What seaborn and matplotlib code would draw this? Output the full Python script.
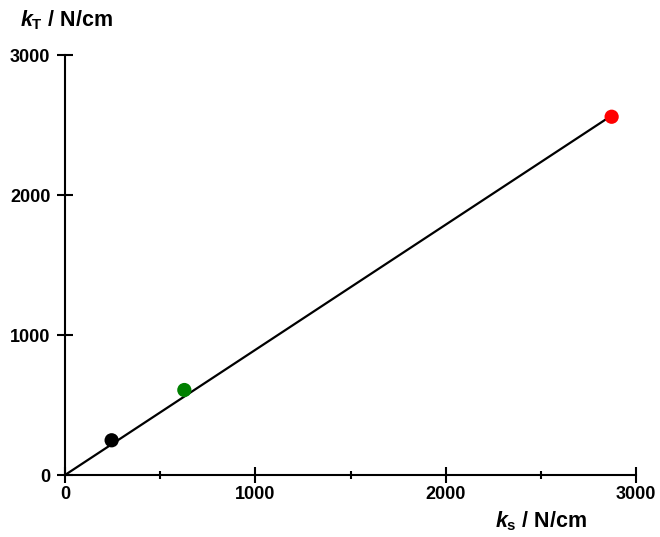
import numpy as np
import pandas as pd
import seaborn as sns
import matplotlib.pyplot as plt
from matplotlib.ticker import MultipleLocator

# data
ks = [245, 627, 2872]
kt = [248, 607, 2559]
sample = ["a", "b", "c"]
colors = ["#000000", "#008000", "#ff0000"]
fit_x = [0, 2872]
fit_slope = 0.894

sns.set_style("white")
plt.rcParams["font.family"] = ["Liberation Sans", "DejaVu Sans"]
plt.rcParams["font.weight"] = "bold"
plt.rcParams["text.color"] = "black"
plt.rcParams["mathtext.fontset"] = "custom"
plt.rcParams["mathtext.rm"] = "Liberation Sans:bold"
plt.rcParams["mathtext.it"] = "Liberation Sans:italic:bold"
plt.rcParams["mathtext.bf"] = "Liberation Sans:bold"

df = pd.DataFrame({"ks": ks, "kt": kt, "sample": sample})
fit = pd.DataFrame({"x": fit_x, "y": [fit_slope * v for v in fit_x]})

fig = plt.figure(figsize=(6.6, 5.37), dpi=100)
ax = fig.add_axes([65 / 660, 62 / 537, 571 / 660, 420 / 537])

sns.lineplot(data=fit, x="x", y="y", color="black", lw=1.6, ax=ax)
sns.scatterplot(data=df, x="ks", y="kt", hue="sample", palette=colors,
                s=105, edgecolor="none", legend=False, ax=ax, zorder=3, clip_on=False)

ax.set_xlim(0, 3000)
ax.set_ylim(0, 3000)
ax.xaxis.set_major_locator(MultipleLocator(1000))
ax.xaxis.set_minor_locator(MultipleLocator(500))
ax.yaxis.set_major_locator(MultipleLocator(1000))
ax.set_xlabel("")
ax.set_ylabel("")

for s in ["top", "right"]:
    ax.spines[s].set_visible(False)
for s in ["left", "bottom"]:
    ax.spines[s].set_linewidth(1.5)
    ax.spines[s].set_color("black")

ax.tick_params(which="major", direction="inout", length=12, width=1.5,
               labelsize=13, colors="black", bottom=True, left=True)
ax.tick_params(axis="x", which="major", pad=2)
ax.tick_params(axis="y", which="major", pad=4.5)
ax.tick_params(axis="x", which="minor", direction="inout", length=5.5, width=1.5,
               bottom=True, colors="black")
for lab in ax.get_xticklabels() + ax.get_yticklabels():
    lab.set_fontweight("bold")

# axis titles, k in bold italic with a small subscript
fig.text(20 / 660, 1 - 20 / 537, r"$k_{\mathrm{T}}$ / N/cm", fontsize=15.5,
         fontweight="bold", ha="left", va="center")
fig.text(495 / 660, 1 - 521 / 537, r"$k_{\mathrm{s}}$ / N/cm", fontsize=15.5,
         fontweight="bold", ha="left", va="center")

fig.savefig("out.png", dpi=100)
